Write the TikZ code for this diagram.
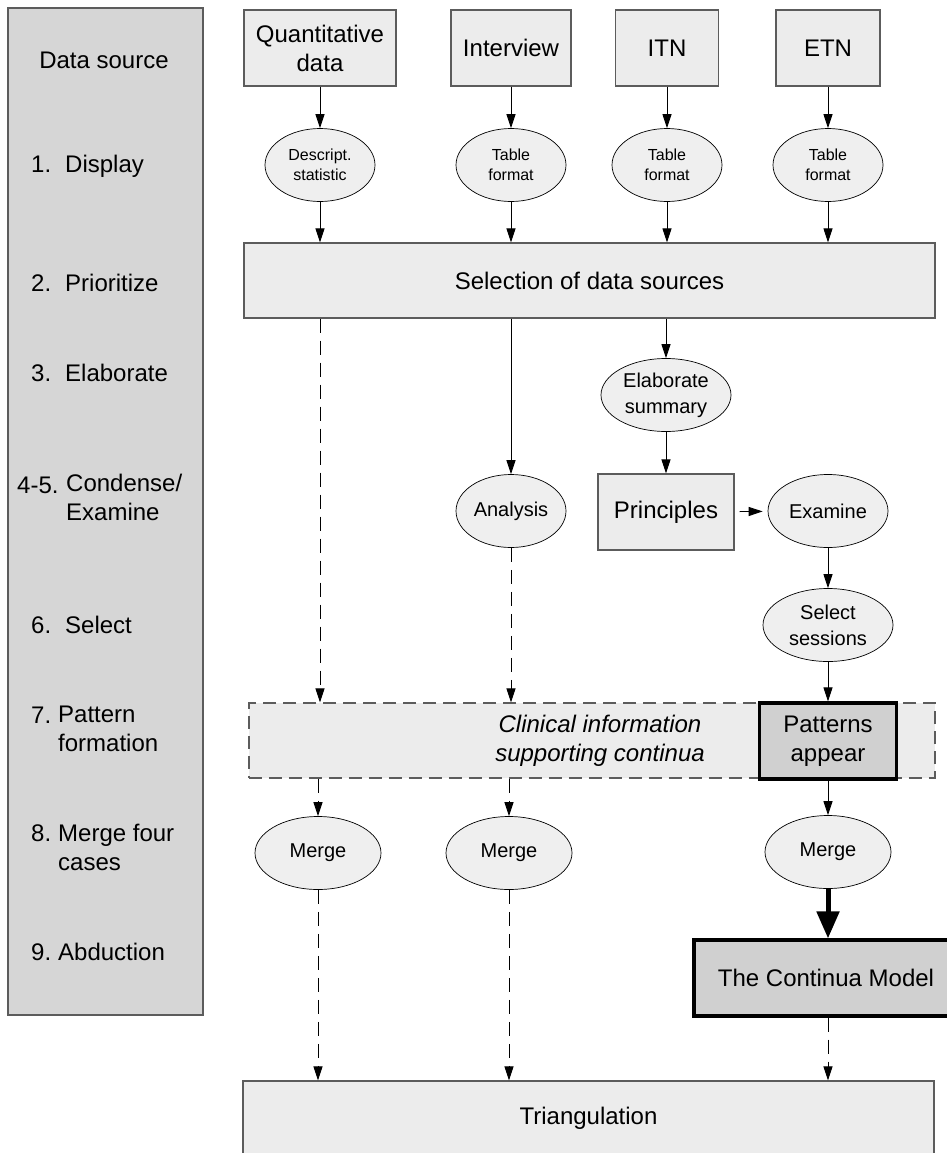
\documentclass[tikz,border=0pt]{standalone}
\usepackage{fontspec}
\setmainfont{Liberation Sans}
\usepackage{tikz}
\usetikzlibrary{arrows.meta,shapes.geometric}
\definecolor{colfill}{HTML}{D6D6D6}
\definecolor{boxfill}{HTML}{ECECEC}
\definecolor{ovalfill}{HTML}{EFEFEF}
\definecolor{hotfill}{HTML}{D0D0D0}
\definecolor{edgegray}{HTML}{5C5C5C}
\newcommand{\bigtxt}{\fontsize{24}{29}\selectfont}
\newcommand{\midtxt}{\fontsize{20}{26}\selectfont}
\newcommand{\smalltxt}{\fontsize{16}{20}\selectfont}
\tikzstyle{colbox}=[draw=edgegray,fill=colfill,line width=1.2pt]
\tikzstyle{mlbl}=[font=\bigtxt,anchor=west,inner sep=0pt,align=left]
\tikzstyle{lbl}=[mlbl,text height=17.5pt,text depth=0pt]
\tikzstyle{srcbox}=[draw=edgegray,fill=boxfill,line width=1.2pt,inner sep=0pt,
	minimum height=76pt,font=\bigtxt,align=center]
\tikzstyle{hotbox}=[draw=black,fill=hotfill,line width=3.2pt,inner sep=0pt,
	minimum height=76pt,font=\bigtxt,align=center]
\tikzstyle{oval}=[ellipse,draw=black,fill=ovalfill,line width=0.7pt,inner sep=0pt,
	minimum height=73pt,font=\midtxt,align=center]
\tikzstyle{flow}=[-{Triangle[length=14pt,width=9pt]},line width=0.9pt]
\tikzstyle{dflow}=[flow,dash pattern=on 14pt off 8pt]
\tikzstyle{bigflow}=[-{Triangle[length=27pt,width=22pt]},line width=5pt]

\begin{document}
\begin{tikzpicture}[x=1pt,y=-1pt]
\useasboundingbox (0,0) rectangle (947,1153);

\draw[colbox] (8,8) rectangle (203,1015);
\node[lbl,anchor=center] (d0) at (104,60) {Data source};
\node[lbl] (n1) at (31,164) {1.};
\node[lbl] (t1) at (65,164) {Display};
\node[lbl] (n2) at (31,283) {2.};
\node[lbl] (t2) at (65,283) {Prioritize};
\node[lbl] (n3) at (31,373) {3.};
\node[lbl] (t3) at (65,373) {Elaborate};
\node[lbl] (n45) at (17,485) {4-5.};
\node[mlbl] (t45) at (66,497) {Condense/\\Examine};
\node[lbl] (n6) at (31,625) {6.};
\node[lbl] (t6) at (65,625) {Select};
\node[lbl] (n7) at (31,715) {7.};
\node[mlbl] (t7) at (58,729) {Pattern\\formation};
\node[lbl] (n8) at (31,833) {8.};
\node[mlbl] (t8) at (58,847) {Merge four\\cases};
\node[lbl] (n9) at (31,952) {9.};
\node[lbl] (t9) at (58,952) {Abduction};

\node[srcbox,minimum width=152pt] (qd) at (320,48) {Quantitative\\data};
\node[srcbox,minimum width=120pt] (iv) at (511,48) {Interview};
\node[srcbox,minimum width=103pt] (itn) at (667,48) {ITN};
\node[srcbox,minimum width=104pt] (etn) at (828,48) {ETN};

\node[oval,font=\smalltxt,minimum width=110pt] (ds) at (320,165) {Descript.\\statistic};
\node[oval,font=\smalltxt,minimum width=110pt] (tf1) at (511,165) {Table\\format};
\node[oval,font=\smalltxt,minimum width=110pt] (tf2) at (667,165) {Table\\format};
\node[oval,font=\smalltxt,minimum width=110pt] (tf3) at (828,165) {Table\\format};

\node[srcbox,minimum width=691pt,minimum height=75pt] (sel) at (589.5,280.5) {Selection of data sources};

\node[oval,minimum width=130pt] (es) at (666,395) {Elaborate\\summary};
\node[oval,minimum width=110pt] (an) at (511,511) {Analysis};
\node[srcbox,minimum width=136pt] (pr) at (666,512) {Principles};
\node[oval,minimum width=120pt] (ex) at (828,511) {Examine};
\node[oval,minimum width=130pt] (ss) at (828,625) {Select\\sessions};

\node[draw=edgegray,fill=boxfill,line width=1.2pt,dash pattern=on 13pt off 7pt,
	minimum width=686pt,minimum height=75pt,inner sep=0pt] (cl) at (592,740.5) {};
\node[font=\bigtxt\itshape,align=center,inner sep=0pt] (ct) at (600,741) {Clinical information\\supporting continua};
\node[hotbox,minimum width=137pt] (pa) at (828,741) {Patterns\\appear};

\node[oval,minimum width=126pt] (m1) at (318,853) {Merge};
\node[oval,minimum width=126pt] (m2) at (509,853) {Merge};
\node[oval,minimum width=126pt] (m3) at (828,852) {Merge};

\node[hotbox,minimum width=264pt] (cm) at (826,978) {The Continua Model};
\node[srcbox,minimum width=691pt,minimum height=75pt] (tr) at (588.5,1118.5) {Triangulation};

\draw[flow] (qd) -- (ds);
\draw[flow] (iv) -- (tf1);
\draw[flow] (itn) -- (tf2);
\draw[flow] (etn) -- (tf3);
\draw[flow] (ds) -- (ds |- sel.north);
\draw[flow] (tf1) -- (tf1 |- sel.north);
\draw[flow] (tf2) -- (tf2 |- sel.north);
\draw[flow] (tf3) -- (tf3 |- sel.north);

\draw[dflow] (sel.south -| ds) -- (cl.north -| ds);
\draw[flow] (sel.south -| an) -- (an);
\draw[flow] (sel.south -| es) -- (es);
\draw[flow] (es) -- (es |- pr.north);
\draw[flow,shorten <=5pt,shorten >=5pt] (pr) -- (ex);
\draw[dflow] (an) -- (an |- cl.north);
\draw[flow] (ex) -- (ss);
\draw[flow] (ss) -- (pa);

\draw[dflow] (cl.south -| m1) -- (m1);
\draw[dflow] (cl.south -| m2) -- (m2);
\draw[flow] (pa) -- (m3);
\draw[bigflow] (m3) -- (m3 |- cm.north);

\draw[dflow] (m1) -- (m1 |- tr.north);
\draw[dflow] (m2) -- (m2 |- tr.north);
\draw[dflow] (cm.south -| m3) -- (m3 |- tr.north);
\end{tikzpicture}
\end{document}
